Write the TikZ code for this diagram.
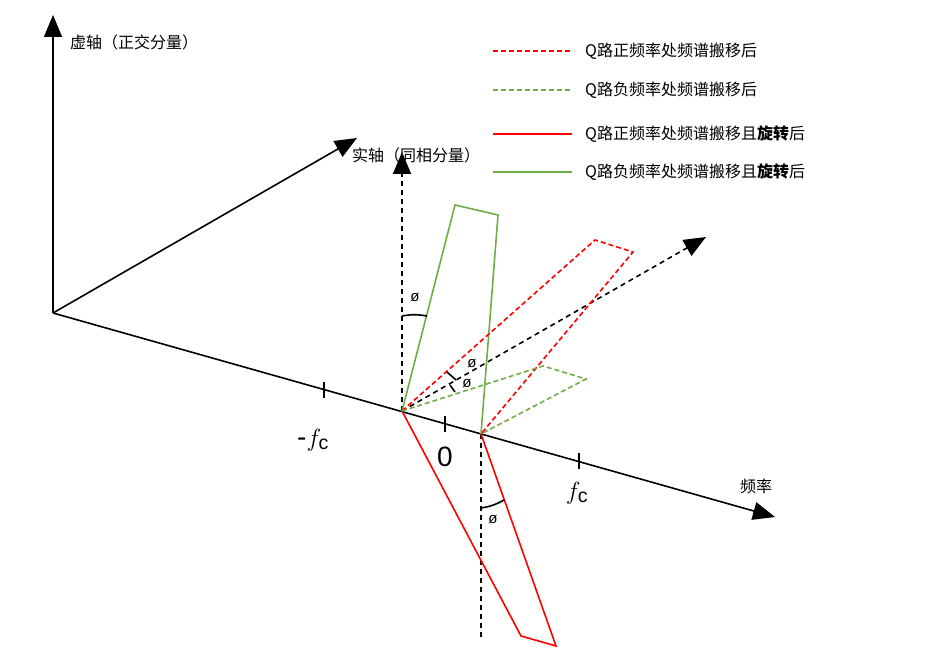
\documentclass[tikz,border=0pt]{standalone}
\usepackage{fontspec}
\setmainfont{Liberation Sans}
\newfontfamily\cjk{Noto Sans CJK SC}
\usetikzlibrary{arrows.meta}
\definecolor{gr}{RGB}{112,173,71}
\tikzset{ax/.style={line width=1.6pt,-{Triangle[length=22pt,width=18pt]}},
 dax/.style={line width=1.6pt,dash pattern=on 5pt off 4pt,-{Triangle[length=22pt,width=18pt]}},
 sq/.style={line width=1.6pt},
 dsh/.style={dash pattern=on 5pt off 3pt},
 lab/.style={font=\cjk\fontsize{16}{18}\selectfont,anchor=west,inner sep=0pt},
 phi/.style={font=\fontsize{15}{16}\selectfont},
 big/.style={font=\fontsize{28}{30}\selectfont},
 tk/.style={line width=1.6pt}}
\begin{document}
\begin{tikzpicture}[x=1pt,y=-1pt]
\useasboundingbox (0,0) rectangle (929,655);
\coordinate (O) at (53,313);
\coordinate (A) at (402,411);
\coordinate (B) at (481,434);
\coordinate (Vt) at (53,15);
\coordinate (Rt) at (357,138);
\coordinate (Ft) at (775,517);
\draw[ax] (O) -- (Vt);
\draw[ax] (O) -- (Rt);
\draw[ax] (O) -- (Ft);
\foreach \x/\y in {324/390, 445/424, 579/461} \draw[tk] (\x,\y-8) -- (\x,\y+8);
\coordinate (At) at (402,152);
\coordinate (Dt) at (706,237);
\coordinate (Bb) at (481,638);
\draw[dax] (A) -- (At);
\draw[dax] (A) -- (Dt);
\draw[line width=1.6pt,dash pattern=on 5pt off 4pt] (B) -- (Bb);
% shapes
\draw[gr,sq] (A) -- (455,205) -- (498,215) -- (B);
\draw[red,sq] (A) -- (521,636) -- (556,646) -- (B);
\draw[red,sq,dsh] (A) -- (595,240) -- (633,252) -- (B);
\draw[gr,sq,dsh] (A) -- (543,366) -- (586,379) -- (B);
% angle marks
\draw[line width=1.6pt] (402,316) to[bend left=10] (427,316);
\draw[line width=1.6pt] (481,508) to[bend right=10] (504,500);
\draw[line width=1.6pt] (447,372) -- (456,380);
\draw[line width=1.6pt] (450,385) -- (455,392);
\node[phi] (p1) at (415,298) {\o};
\node[phi] (p2) at (493,520) {\o};
\node[phi] (p3) at (472,364) {\o};
\node[phi] (p4) at (467,384) {\o};
% labels
\node[lab] (lv) at (70,42) {虚轴（正交分量）};
\node[lab] (lr) at (352,155) {实轴（同相分量）};
\node[lab] (lf) at (740,486) {频率};
\node[big] (mf) at (313,440) {-$f_{\mathrm{c}}$};
\node[big] (z) at (445,457) {0};
\node[big] (f) at (577,493) {$f_{\mathrm{c}}$};
% legend
\coordinate (l1a) at (493,51); \coordinate (l1b) at (572,51);
\coordinate (l2a) at (493,90); \coordinate (l2b) at (572,90);
\coordinate (l3a) at (493,134); \coordinate (l3b) at (572,134);
\coordinate (l4a) at (493,172); \coordinate (l4b) at (572,172);
\draw[red,sq,dsh] (l1a) -- (l1b);
\draw[gr,sq,dsh] (l2a) -- (l2b);
\draw[red,sq] (l3a) -- (l3b);
\draw[gr,sq] (l4a) -- (l4b);
\node[lab] (t1) at (585,51) {Q路正频率处频谱搬移后};
\node[lab] (t2) at (585,90) {Q路负频率处频谱搬移后};
\node[lab] (t3) at (585,134) {Q路正频率处频谱搬移且\textbf{旋转}后};
\node[lab] (t4) at (585,172) {Q路负频率处频谱搬移且\textbf{旋转}后};
\end{tikzpicture}
\end{document}
